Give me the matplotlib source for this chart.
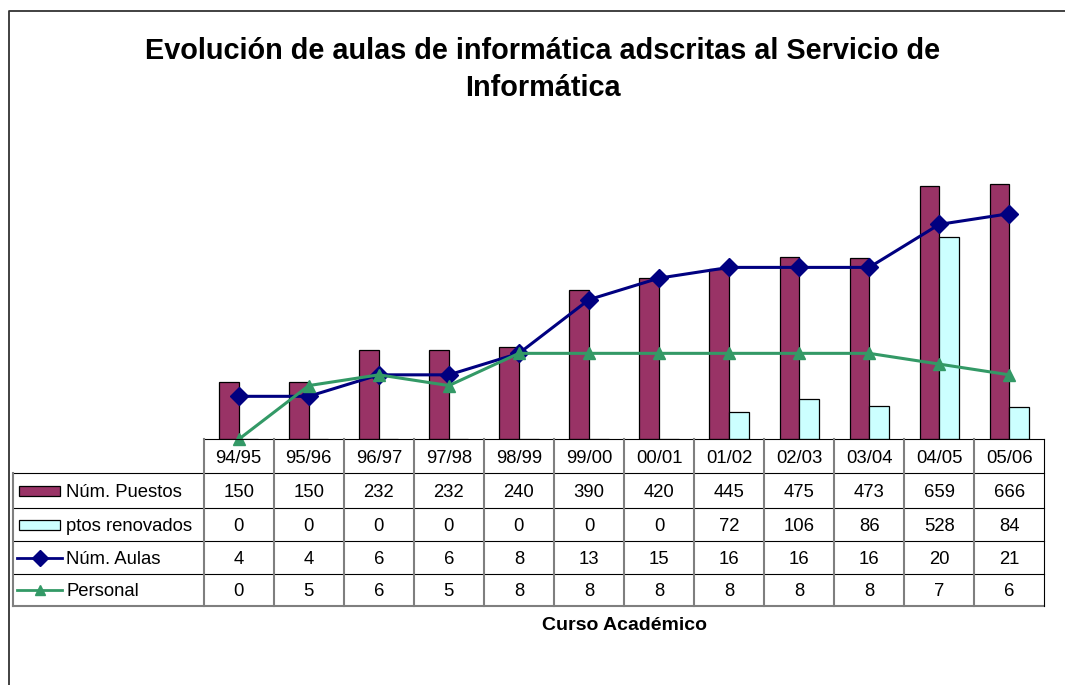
import matplotlib.pyplot as plt
from matplotlib.lines import Line2D
from matplotlib.patches import Rectangle

plt.rcParams['font.family'] = ['Liberation Sans', 'DejaVu Sans']

cursos = ['94/95', '95/96', '96/97', '97/98', '98/99', '99/00',
          '00/01', '01/02', '02/03', '03/04', '04/05', '05/06']
puestos = [150, 150, 232, 232, 240, 390, 420, 445, 475, 473, 659, 666]
renovados = [0, 0, 0, 0, 0, 0, 0, 72, 106, 86, 528, 84]
aulas = [4, 4, 6, 6, 8, 13, 15, 16, 16, 16, 20, 21]
personal = [0, 5, 6, 5, 8, 8, 8, 8, 8, 8, 7, 6]

c_puestos = '#993366'
c_renov = '#CCFFFF'
c_aulas = '#000080'
c_pers = '#339966'

W, H = 1065, 685


def fx(px):
    return px / W


def fy(py):
    return 1 - py / H


fig = plt.figure(figsize=(W / 100, H / 100), dpi=100)

# plot area (pixel geometry of the reference)
left, right, top, bottom = 203.7, 1044.3, 170.7, 439.3
ax = fig.add_axes([fx(left), fy(bottom), fx(right - left), (bottom - top) / H])
ax2 = ax.twinx()

x = list(range(len(cursos)))
bw = 0.28
ax.bar([i - bw / 2 for i in x], puestos, width=bw, color=c_puestos,
       edgecolor='black', linewidth=0.9)
ax.bar([i + bw / 2 for i in x], renovados, width=bw, color=c_renov,
       edgecolor='black', linewidth=0.9)
ax.set_ylim(0, 700)
ax.set_xlim(-0.5, len(cursos) - 0.5)

ax2.plot(x, aulas, color=c_aulas, lw=2.2, marker='D', ms=9.5, clip_on=False)
ax2.plot(x, personal, color=c_pers, lw=2.2, marker='^', ms=8, clip_on=False)
ax2.set_ylim(0, 25)

for a in (ax, ax2):
    a.set_xticks([])
    a.set_yticks([])
    for s in a.spines.values():
        s.set_visible(False)
    a.patch.set_visible(False)

# title
fig.text(fx(543), fy(51), 'Evolución de aulas de informática adscritas al Servicio de',
         ha='center', va='center', fontsize=20.8, fontweight='bold')
fig.text(fx(543), fy(88), 'Informática', ha='center', va='center',
         fontsize=20.8, fontweight='bold')

# data table
rows_y = [439.3, 473.3, 508.3, 541.0, 574.3, 605.7]
tab_left = 12.7
colw = (right - left) / len(cursos)
fs = 13.3
dy = 1.8  # nudge text down so digits sit in the middle of the cell


def hline(x0, x1, y, color='black', lw=0.8):
    fig.add_artist(Line2D([fx(x0), fx(x1)], [fy(y), fy(y)], color=color, lw=lw))


def vline(xp, y0, y1, color='#7f7f7f', lw=1.5):
    fig.add_artist(Line2D([fx(xp), fx(xp)], [fy(y0), fy(y1)], color=color, lw=lw))


hline(left, right, rows_y[0])
for yy in rows_y[1:-1]:
    hline(tab_left, right, yy)
hline(tab_left, right, rows_y[-1], color='#7f7f7f', lw=1.5)
vline(tab_left, rows_y[1], rows_y[-1])
for i in range(len(cursos)):
    vline(left + i * colw, rows_y[0], rows_y[-1])
vline(right, rows_y[0], rows_y[-1], color='black', lw=0.8)

series = [
    ('Núm. Puestos', puestos),
    ('ptos renovados', renovados),
    ('Núm. Aulas', aulas),
    ('Personal', personal),
]

for i, c in enumerate(cursos):
    cx = left + (i + 0.5) * colw
    fig.text(fx(cx), fy((rows_y[0] + rows_y[1]) / 2 + dy), c,
             ha='center', va='center', fontsize=fs)
    for r, (_, vals) in enumerate(series):
        cy = (rows_y[r + 1] + rows_y[r + 2]) / 2
        fig.text(fx(cx), fy(cy + dy), str(vals[i]), ha='center', va='center', fontsize=fs)

for r, (name, _) in enumerate(series):
    cy = (rows_y[r + 1] + rows_y[r + 2]) / 2
    fig.text(fx(66), fy(cy + dy), name, ha='left', va='center', fontsize=fs)
    if r < 2:
        fc = c_puestos if r == 0 else c_renov
        fig.add_artist(Rectangle((fx(18.5), fy(cy + 5)), fx(41.5), 10 / H,
                                 facecolor=fc, edgecolor='black', lw=0.9))
    else:
        col = c_aulas if r == 2 else c_pers
        mk = 'D' if r == 2 else '^'
        fig.add_artist(Line2D([fx(17), fx(62)], [fy(cy), fy(cy)], color=col, lw=2))
        fig.add_artist(Line2D([fx(39.5)], [fy(cy)], color=col, marker=mk,
                              ms=8 if r == 2 else 7))

fig.text(fx(624), fy(624 + dy), 'Curso Académico', ha='center', va='center',
         fontsize=14, fontweight='bold')

# chart border
fig.add_artist(Line2D([fx(8.5), fx(8.5), fx(W)], [0, fy(10.5), fy(10.5)],
                      color='#333333', lw=1.3))

fig.savefig('out.png', dpi=100)
